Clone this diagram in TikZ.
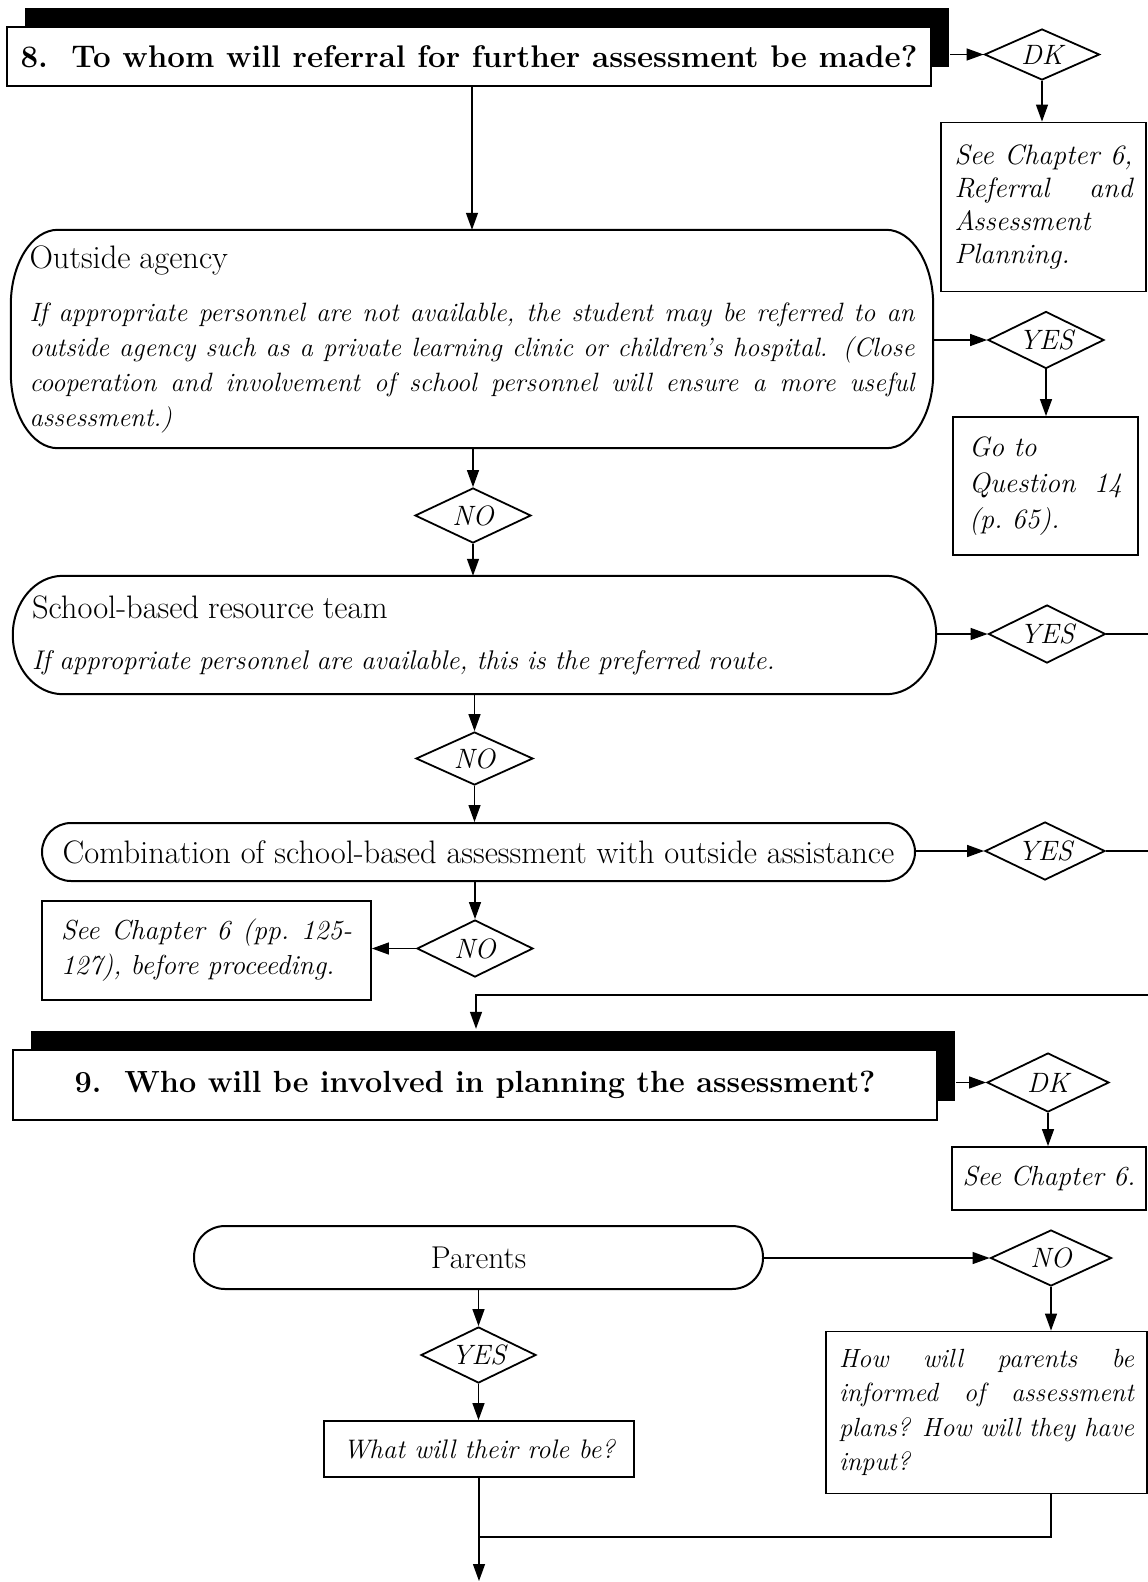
\documentclass[tikz,border=0pt]{standalone}
\usetikzlibrary{shapes.geometric,arrows.meta,calc,shadows}

% one justified line of a given width (interword glue made stretchable again)
\newcommand\jl[2]{\noindent\makebox[#1][s]{\spaceskip=0pt\xspaceskip=0pt\relax #2}\par}

% outline with elliptical corners around a (borderless) node:
% #1 node name, #2 horizontal corner radius, #3 vertical corner radius
\newcommand\ellbox[3]{%
  \draw[boxline]
    ($(#1.north west)+(#2,0)$) -- ($(#1.north east)+(-#2,0)$)
    .. controls ($(#1.north east)+(-0.45*#2,0)$) and ($(#1.north east)+(0,0.45*#3)$) .. ($(#1.north east)+(0,#3)$)
    -- ($(#1.south east)+(0,-#3)$)
    .. controls ($(#1.south east)+(0,-0.45*#3)$) and ($(#1.south east)+(-0.45*#2,0)$) .. ($(#1.south east)+(-#2,0)$)
    -- ($(#1.south west)+(#2,0)$)
    .. controls ($(#1.south west)+(0.45*#2,0)$) and ($(#1.south west)+(0,-0.45*#3)$) .. ($(#1.south west)+(0,-#3)$)
    -- ($(#1.north west)+(0,#3)$)
    .. controls ($(#1.north west)+(0,0.45*#3)$) and ($(#1.north west)+(0.45*#2,0)$) .. ($(#1.north west)+(#2,0)$)
    -- cycle;}

\begin{document}
\begin{tikzpicture}[x=1pt,y=-1pt,
  boxline/.style={line width=2pt, line join=round},
  qbox/.style={draw, fill=white, line width=2.4pt, inner sep=0pt,
    general shadow={fill=black, shadow xshift=18pt, shadow yshift=19pt}},
  rbox/.style={draw, line width=1.8pt, inner sep=0pt, align=left},
  plain/.style={inner sep=0pt, align=left},
  dia/.style={diamond, draw, line width=1.8pt, inner sep=0pt, aspect=2,
    font=\fontsize{28}{32}\selectfont\itshape},
  arr/.style={line width=1.3pt, -{Triangle[length=17pt,width=12pt]}},
  ln/.style={line width=1.3pt},
  ]
\fill[white] (0,0) rectangle (1148,1582);
\useasboundingbox (0,0) rectangle (1148,1582);

% ---------- Question 8 ----------
\node[qbox, minimum width=924pt, minimum height=59pt,
      font=\fontsize{31.3}{36}\selectfont\bfseries] (q8) at (469,56.5)
  {8.\ \ To whom will referral for further assessment be made?};
\node[dia, minimum width=115pt, minimum height=51pt] (dk1) at (1042,54.5) {DK};
\node[rbox, minimum width=205pt, minimum height=169pt, text width=178pt,
      font=\fontsize{28}{33}\selectfont\itshape] (see1) at (1043.5,207)
  {\jl{178pt}{See Chapter 6,}\jl{178pt}{Referral and}Assessment\par Planning.};

% outside agency
\node[plain, minimum width=922pt, minimum height=218pt, text width=885pt,
      font=\fontsize{26.5}{35}\selectfont\itshape] (oa) at (472,339)
  {{\upshape\fontsize{32.5}{35}\selectfont Outside agency\par}\vspace{18pt}%
   \jl{885pt}{If appropriate personnel are not available, the student may be referred to an}%
   \jl{885pt}{outside agency such as a private learning clinic or children's hospital. (Close}%
   \jl{885pt}{cooperation and involvement of school personnel will ensure a more useful}%
   assessment.)};
\ellbox{oa}{47}{75}
\node[dia, minimum width=116pt, minimum height=57pt] (yes1) at (1046,340) {YES};
\node[rbox, minimum width=185pt, minimum height=138pt, text width=153pt,
      font=\fontsize{28}{36}\selectfont\itshape] (go) at (1045.5,486)
  {Go to\par\jl{153pt}{Question 14}(p.\ 65).};
\node[dia, minimum width=116pt, minimum height=55pt] (no1) at (473,515.5) {NO};

% school-based resource team
\node[plain, minimum width=923pt, minimum height=118pt, text width=885pt,
      font=\fontsize{27}{35}\selectfont\itshape] (sch) at (474.5,635)
  {{\upshape\fontsize{32.5}{35}\selectfont School-based resource team\par}\vspace{16pt}%
   If appropriate personnel are available, this is the preferred route.};
\ellbox{sch}{50}{59}
\node[dia, minimum width=117pt, minimum height=58pt] (yes2) at (1047,634) {YES};
\coordinate (exit1) at (1150,634);
\node[dia, minimum width=117pt, minimum height=53pt] (no2) at (474.5,758.5) {NO};

% combination
\node[draw, line width=2pt, rounded corners=29pt, inner sep=0pt,
      minimum width=873pt, minimum height=58pt,
      font=\fontsize{32.5}{36}\selectfont] (comb) at (478.5,852)
  {Combination of school-based assessment with outside assistance};
\node[dia, minimum width=120pt, minimum height=58pt] (yes3) at (1045,851) {YES};
\coordinate (exit2) at (1150,851);
\node[dia, minimum width=116pt, minimum height=57pt] (no3) at (475,948.5) {NO};
\node[rbox, minimum width=329pt, minimum height=99pt, text width=291pt,
      font=\fontsize{27.5}{35}\selectfont\itshape] (see3) at (206.5,950.5)
  {\jl{291pt}{See Chapter 6 (pp.\ 125-}127), before proceeding.};
\coordinate (ret) at (1150,995);

% ---------- Question 9 ----------
\node[qbox, minimum width=924pt, minimum height=70pt,
      font=\fontsize{30.6}{35}\selectfont\bfseries] (q9) at (475,1085)
  {9.\ \ Who will be involved in planning the assessment?};
\node[dia, minimum width=122pt, minimum height=59pt] (dk2) at (1048,1082.5) {DK};
\node[rbox, minimum width=194pt, minimum height=63pt,
      font=\fontsize{27.5}{32}\selectfont\itshape] (see2) at (1049,1178.5)
  {See Chapter 6.};

\node[draw, line width=2pt, rounded corners=31pt, inner sep=0pt,
      minimum width=569pt, minimum height=63pt,
      font=\fontsize{31.5}{34}\selectfont] (par) at (478.5,1257.5) {Parents};
\node[dia, minimum width=121pt, minimum height=56pt] (no4) at (1051,1258) {NO};
\node[rbox, minimum width=321pt, minimum height=162pt, text width=295pt,
      font=\fontsize{26.3}{34.5}\selectfont\itshape] (how) at (986.5,1412.5)
  {\jl{295pt}{How will parents be}\jl{295pt}{informed of assessment}%
   \jl{295pt}{plans? How will they have}input?};
\node[dia, minimum width=115pt, minimum height=56pt] (yes4) at (478.5,1355) {YES};
\node[rbox, minimum width=310pt, minimum height=56pt,
      font=\fontsize{26.8}{30}\selectfont\itshape] (what) at (479,1449)
  {What will their role be?};
\coordinate (merge) at (479,1537);
\coordinate (out) at (479,1581);

% ---------- connectors ----------
\draw[arr] ($(dk1.west -| q8.east)+(18,0)$) -- (dk1.west);
\draw[arr] (dk1.south) -- (dk1.south |- see1.north);
\draw[arr] (oa.north |- q8.south) -- (oa.north);
\draw[arr] (yes1.west -| oa.east) -- (yes1.west);
\draw[arr] (yes1.south) -- (yes1.south |- go.north);
\draw[arr] (no1.north |- oa.south) -- (no1.north);
\draw[arr] (no1.south) -- (no1.south |- sch.north);
\draw[arr] (yes2.west -| sch.east) -- (yes2.west);
\draw[ln] (yes2.east) -- (exit1);
\draw[arr] (no2.north |- sch.south) -- (no2.north);
\draw[arr] (no2.south) -- (no2.south |- comb.north);
\draw[arr] (yes3.west -| comb.east) -- (yes3.west);
\draw[ln] (yes3.east) -- (exit2);
\draw[arr] (no3.north |- comb.south) -- (no3.north);
\draw[arr] (no3.west) -- (no3.west -| see3.east);
\draw[arr] (ret) -| ($(q9.north)+(1,-20)$);
\draw[arr] ($(dk2.west -| q9.east)+(18,0)$) -- (dk2.west);
\draw[arr] (dk2.south) -- (dk2.south |- see2.north);
\draw[arr] (no4.west -| par.east) -- (no4.west);
\draw[arr] (no4.south) -- (no4.south |- how.north);
\draw[arr] (yes4.north |- par.south) -- (yes4.north);
\draw[arr] (yes4.south) -- (yes4.south |- what.north);
\draw[ln] (no4.south |- how.south) |- (merge);
\draw[arr] (what.south) -- (out);
\end{tikzpicture}
\end{document}
